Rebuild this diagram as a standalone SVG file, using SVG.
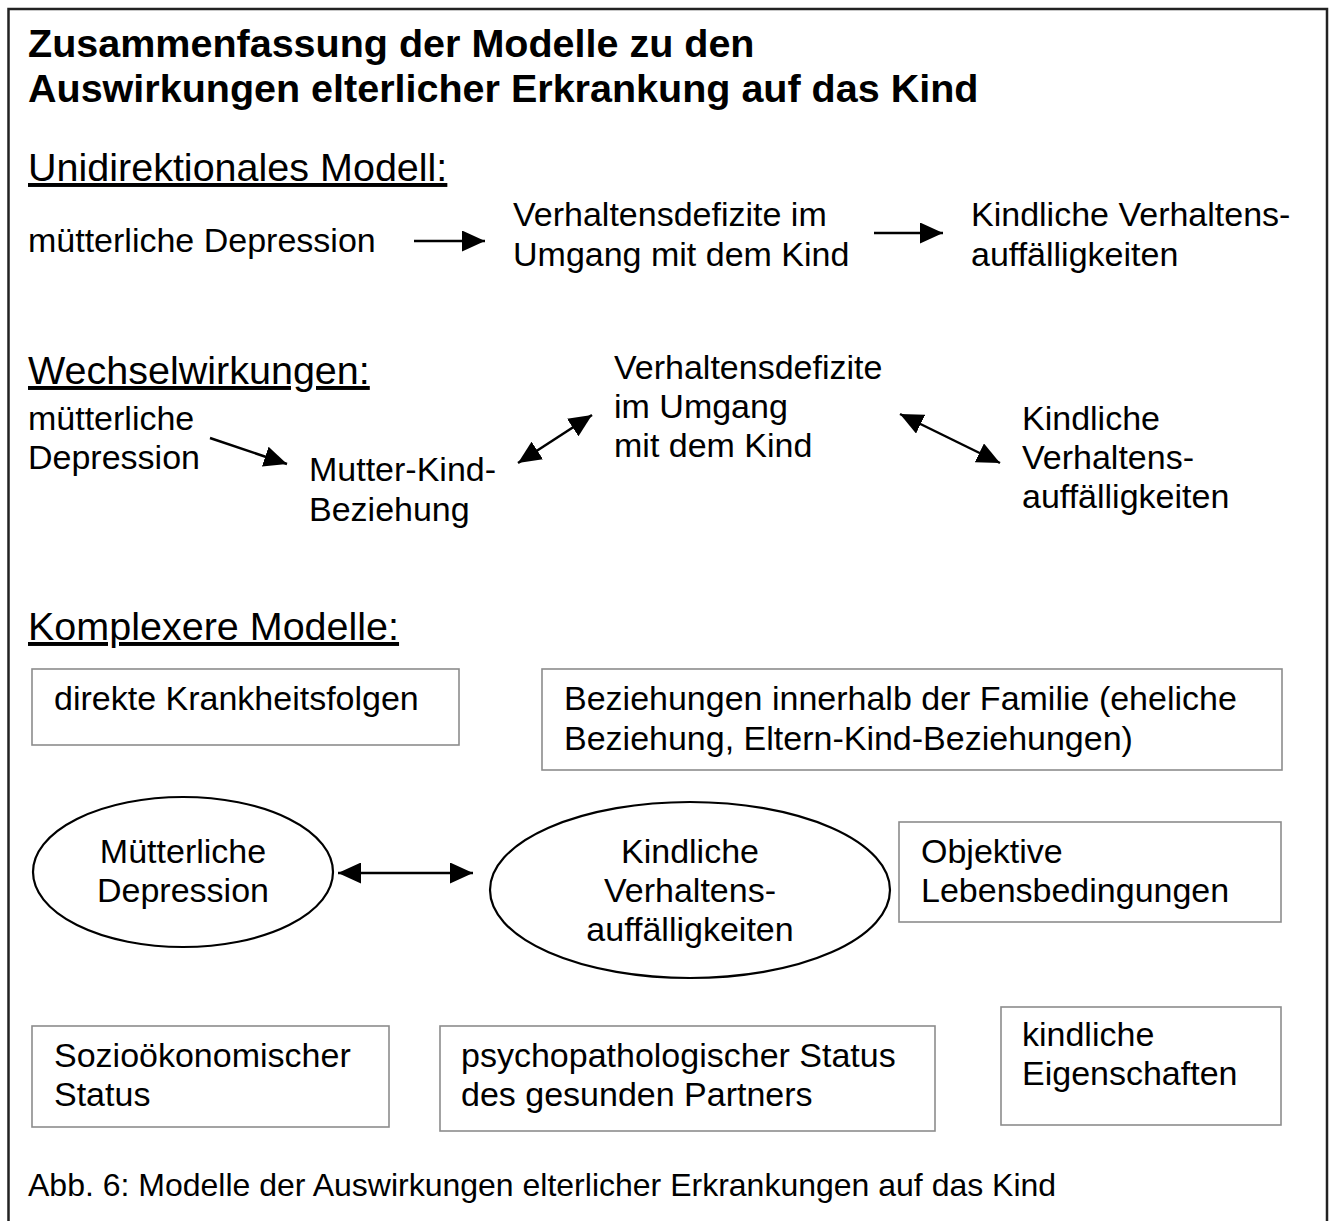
<svg xmlns="http://www.w3.org/2000/svg" width="1332" height="1221" viewBox="0 0 1332 1221">
  <style>
    text { font-family: "Liberation Sans", Arial, sans-serif; fill: #000; }
    .title { font-size: 39.5px; font-weight: bold; }
    .head { font-size: 39.5px; text-decoration: underline; }
    .body { font-size: 34px; }
    .cap { font-size: 32px; }
    .mid { text-anchor: middle; }
    .box { fill: #fff; stroke: #8c8c8c; stroke-width: 1.6; }
    .oval { fill: #fff; stroke: #000; stroke-width: 2.2; }
    .conn { stroke: #000; stroke-width: 2.5; fill: none; }
    .one { marker-end: url(#head); }
    .two { marker-start: url(#head); marker-end: url(#head); }
  </style>
  <defs>
    <marker id="head" viewBox="0 0 23 21" refX="23" refY="10.5" markerWidth="23" markerHeight="21" markerUnits="userSpaceOnUse" orient="auto-start-reverse">
      <path d="M0,0 L23,10.5 L0,21 z" fill="#000"/>
    </marker>
  </defs>

  <rect width="1332" height="1221" fill="#fff"/>
  <!-- frame, open at the bottom -->
  <path d="M8.5,1230 V9 H1327 V1230" fill="none" stroke="#222" stroke-width="2.5"/>

  <g id="title">
    <text class="title" x="28" y="57">Zusammenfassung der Modelle zu den</text>
    <text class="title" x="28" y="102">Auswirkungen elterlicher Erkrankung auf das Kind</text>
  </g>

  <!-- section 1 -->
  <g id="heading-uni"><text class="head" x="28" y="181">Unidirektionales Modell:</text></g>
  <g id="uni-depression"><text class="body" x="28" y="252">mütterliche Depression</text></g>
  <g id="uni-defizite">
    <text class="body" x="513" y="226">Verhaltensdefizite im</text>
    <text class="body" x="513" y="266">Umgang mit dem Kind</text>
  </g>
  <g id="uni-kind">
    <text class="body" x="971" y="226">Kindliche Verhaltens-</text>
    <text class="body" x="971" y="266">auffälligkeiten</text>
  </g>

  <!-- section 2 -->
  <g id="heading-wechsel"><text class="head" x="28" y="384">Wechselwirkungen:</text></g>
  <g id="ww-depression">
    <text class="body" x="28" y="430">mütterliche</text>
    <text class="body" x="28" y="469">Depression</text>
  </g>
  <g id="ww-beziehung">
    <text class="body" x="309" y="481">Mutter-Kind-</text>
    <text class="body" x="309" y="521">Beziehung</text>
  </g>
  <g id="ww-defizite">
    <text class="body" x="614" y="379">Verhaltensdefizite</text>
    <text class="body" x="614" y="418">im Umgang</text>
    <text class="body" x="614" y="457">mit dem Kind</text>
  </g>
  <g id="ww-kind">
    <text class="body" x="1022" y="430">Kindliche</text>
    <text class="body" x="1022" y="469">Verhaltens-</text>
    <text class="body" x="1022" y="508">auffälligkeiten</text>
  </g>

  <!-- section 3 -->
  <g id="heading-komplex"><text class="head" x="28" y="640">Komplexere Modelle:</text></g>
  <g id="krankheitsfolgen">
    <rect class="box" x="32" y="669" width="427" height="76"/>
    <text class="body" x="54" y="710">direkte Krankheitsfolgen</text>
  </g>
  <g id="familie">
    <rect class="box" x="542" y="669" width="740" height="101"/>
    <text class="body" x="564" y="710">Beziehungen innerhalb der Familie (eheliche</text>
    <text class="body" x="564" y="750">Beziehung, Eltern-Kind-Beziehungen)</text>
  </g>
  <g id="mutter-depression">
    <ellipse class="oval" cx="183" cy="872" rx="150" ry="75"/>
    <text class="body mid" x="183" y="863">Mütterliche</text>
    <text class="body mid" x="183" y="902">Depression</text>
  </g>
  <g id="kind-verhalten">
    <ellipse class="oval" cx="690" cy="890" rx="200" ry="88"/>
    <text class="body mid" x="690" y="863">Kindliche</text>
    <text class="body mid" x="690" y="902">Verhaltens-</text>
    <text class="body mid" x="690" y="941">auffälligkeiten</text>
  </g>
  <g id="lebensbedingungen">
    <rect class="box" x="899" y="822" width="382" height="100"/>
    <text class="body" x="921" y="863">Objektive</text>
    <text class="body" x="921" y="902">Lebensbedingungen</text>
  </g>
  <g id="soziooekonomisch">
    <rect class="box" x="32" y="1026" width="357" height="101"/>
    <text class="body" x="54" y="1067">Sozioökonomischer</text>
    <text class="body" x="54" y="1106">Status</text>
  </g>
  <g id="partner">
    <rect class="box" x="440" y="1026" width="495" height="105"/>
    <text class="body" x="461" y="1067">psychopathologischer Status</text>
    <text class="body" x="461" y="1106">des gesunden Partners</text>
  </g>
  <g id="eigenschaften">
    <rect class="box" x="1001" y="1007" width="280" height="118"/>
    <text class="body" x="1022" y="1046">kindliche</text>
    <text class="body" x="1022" y="1085">Eigenschaften</text>
  </g>

  <g id="caption"><text class="cap" x="28" y="1196">Abb. 6: Modelle der Auswirkungen elterlicher Erkrankungen auf das Kind</text></g>

  <g id="connectors">
    <line class="conn one" x1="414" y1="241" x2="485" y2="241"/>
    <line class="conn one" x1="874" y1="233" x2="943" y2="233"/>
    <line class="conn one" x1="210" y1="438" x2="287" y2="464"/>
    <line class="conn two" x1="518" y1="463" x2="592" y2="415"/>
    <line class="conn two" x1="900" y1="414" x2="1000" y2="463"/>
    <line class="conn two" x1="338" y1="873" x2="473" y2="873"/>
  </g>
</svg>
